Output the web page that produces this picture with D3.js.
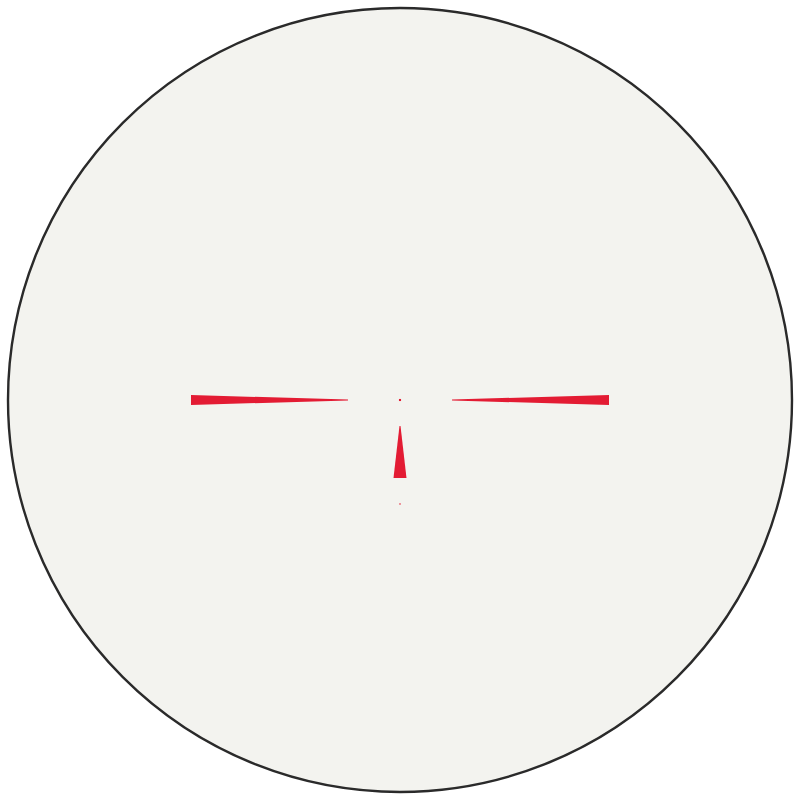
<!DOCTYPE html>
<html lang="en">
<head>
	<meta charset="utf-8">
	<title>Reticle</title>
	<script type="text/javascript" src="https://cdn.jsdelivr.net/npm/d3@7"></script>
	<style>
		body { margin: 0; background: #ffffff; }
		svg { display: block; }
		.field { fill: #f3f3ef; stroke: #2a2a2a; stroke-width: 2.4px; }
		.post { fill: #e31b33; }
		.dot { fill: #e31b33; }
	</style>
</head>
<body>
	<div id="chart"></div>
	<script>
		// reticle geometry, in reticle units (mil-ish)
		const fieldRadius = 15.08;

		const posts = ["left", "right", "bottom"];
		const postInner = [2, 2, 1];          // distance of the thin tip from centre
		const postOuter = [8.04, 8.04, 3];    // distance of the thick end from centre
		const postTipWidth = [0.04, 0.04, 0.04];
		const postBaseWidth = [0.38, 0.38, 0.5];

		const dotOffset = [0, 4];             // downward from centre
		const dotSize = [0.08, 0.05];

		const WIDTH = 800, HEIGHT = 800;

		const x = d3.scaleLinear().domain([-fieldRadius, fieldRadius]).range([8, 792]);
		const y = d3.scaleLinear().domain([-fieldRadius, fieldRadius]).range([8, 792]);
		const r = d => x(d) - x(0);

		const svg = d3.select("#chart").append("svg")
			.attr("width", WIDTH)
			.attr("height", HEIGHT)
			.attr("viewBox", [0, 0, WIDTH, HEIGHT]);

		svg.append("circle")
			.attr("class", "field")
			.attr("cx", x(0))
			.attr("cy", y(0))
			.attr("r", r(fieldRadius));

		// each post is a tapered wedge: thin at the inner tip, wide at the outer end
		function wedge(i) {
			const a = postInner[i], b = postOuter[i];
			const t = postTipWidth[i] / 2, w = postBaseWidth[i] / 2;
			let pts;
			if (posts[i] === "left") {
				pts = [[-a, -t], [-b, -w], [-b, w], [-a, t]];
			} else if (posts[i] === "right") {
				pts = [[a, -t], [b, -w], [b, w], [a, t]];
			} else {
				pts = [[-t, a], [-w, b], [w, b], [t, a]];
			}
			return d3.line().x(p => x(p[0])).y(p => y(p[1]))(pts) + "Z";
		}

		svg.append("g").selectAll("path")
			.data(d3.range(posts.length))
			.join("path")
			.attr("class", "post")
			.attr("d", wedge);

		svg.append("g").selectAll("rect")
			.data(d3.range(dotOffset.length))
			.join("rect")
			.attr("class", "dot")
			.attr("x", i => x(-dotSize[i] / 2))
			.attr("y", i => y(dotOffset[i] - dotSize[i] / 2))
			.attr("width", i => r(dotSize[i]))
			.attr("height", i => r(dotSize[i]));
	</script>
</body>
</html>
